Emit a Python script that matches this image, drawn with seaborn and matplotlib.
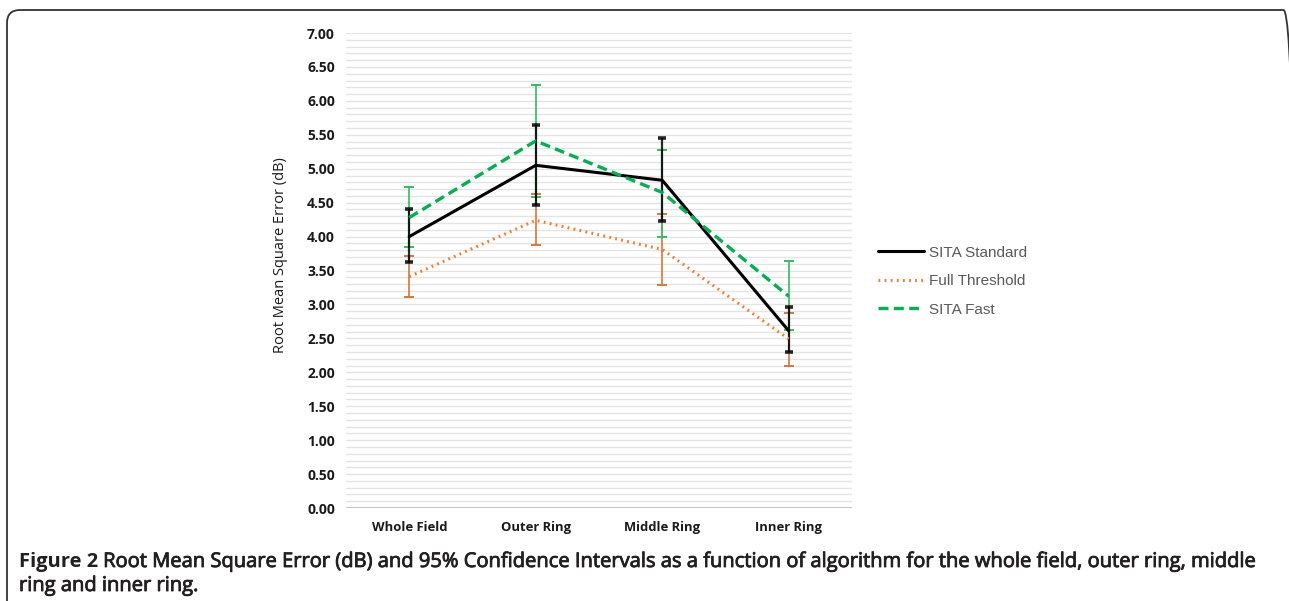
import numpy as np
import pandas as pd
import matplotlib
matplotlib.use('Agg')
import matplotlib.pyplot as plt
import matplotlib.patheffects as pe
from matplotlib.patches import FancyBboxPatch
from matplotlib.lines import Line2D
import seaborn as sns

# --- data ---
regions = ['Whole Field', 'Outer Ring', 'Middle Ring', 'Inner Ring']
algorithms = ['SITA Standard', 'Full Threshold', 'SITA Fast']

sita_std = [4.00, 5.05, 4.83, 2.61]
sita_std_lo = [3.62, 4.47, 4.23, 2.30]
sita_std_hi = [4.40, 5.65, 5.45, 2.96]

full_thr = [3.41, 4.24, 3.81, 2.49]
full_thr_lo = [3.11, 3.87, 3.29, 2.10]
full_thr_hi = [3.71, 4.63, 4.34, 2.87]

sita_fast = [4.28, 5.41, 4.65, 3.12]
sita_fast_lo = [3.84, 4.58, 4.00, 2.62]
sita_fast_hi = [4.73, 6.24, 5.28, 3.64]

yticks = [0.0, 0.5, 1.0, 1.5, 2.0, 2.5, 3.0, 3.5, 4.0, 4.5, 5.0, 5.5, 6.0, 6.5, 7.0]

caption_bold = 'Figure 2'
caption_1 = 'Root Mean Square Error (dB) and 95% Confidence Intervals as a function of algorithm for the whole field, outer ring, middle'
caption_2 = 'ring and inner ring.'

means = {'SITA Standard': sita_std, 'Full Threshold': full_thr, 'SITA Fast': sita_fast}
lows = {'SITA Standard': sita_std_lo, 'Full Threshold': full_thr_lo, 'SITA Fast': sita_fast_lo}
highs = {'SITA Standard': sita_std_hi, 'Full Threshold': full_thr_hi, 'SITA Fast': sita_fast_hi}

rows = []
for alg in algorithms:
    for i, reg in enumerate(regions):
        rows.append({'pos': i, 'region': reg, 'algorithm': alg, 'rmse': means[alg][i]})
df = pd.DataFrame(rows)

line_colors = {'SITA Standard': '#000000', 'Full Threshold': '#ED7D31', 'SITA Fast': '#00B050'}
bar_colors = {'SITA Standard': '#000000', 'Full Threshold': '#D2783C', 'SITA Fast': '#35BA64'}
dashes = {'SITA Standard': '', 'Full Threshold': (0.6, 1.4), 'SITA Fast': (3.0, 1.6)}
widths = {'SITA Standard': 2.2, 'Full Threshold': 2.2, 'SITA Fast': 2.4}

sns.set_theme(style='white')
plt.rcParams['font.family'] = ['Open Sans', 'DejaVu Sans']

fig = plt.figure(figsize=(12.89, 6.01), dpi=100)
ax = fig.add_axes([346 / 1289, 1 - 508 / 601, 506 / 1289, 475 / 601])

# minor grid every 0.1
for v in np.arange(0.1, 7.01, 0.1):
    ax.axhline(v, color='#E4E4E4', lw=1.0, zorder=0)
ax.axhline(0, color='#BFBFBF', lw=1.3, zorder=1)

# error bars: coloured ones first, black on top
for alg in ['Full Threshold', 'SITA Fast', 'SITA Standard']:
    m = np.array(means[alg])
    lo = m - np.array(lows[alg])
    hi = np.array(highs[alg]) - m
    if alg == 'SITA Standard':
        ax.errorbar(range(len(regions)), m, yerr=[lo, hi], fmt='none', ecolor='#000000',
                    elinewidth=1.6, capsize=3.2, capthick=2.6, zorder=3, alpha=0.85)
    else:
        ax.errorbar(range(len(regions)), m, yerr=[lo, hi], fmt='none', ecolor=bar_colors[alg],
                    elinewidth=1.2, capsize=3.8, capthick=1.4, zorder=2)

sns.lineplot(data=df, x='pos', y='rmse', hue='algorithm', style='algorithm',
             hue_order=algorithms, style_order=algorithms, palette=line_colors,
             dashes=dashes, size='algorithm', sizes=widths, legend=False, ax=ax, zorder=4)

ax.set_xlim(-0.5, 3.5)
ax.set_ylim(0, 7)
ax.set_xticks(range(len(regions)))
ax.set_xticklabels(regions, fontweight='bold', fontsize=9.4, color='#1a1a1a')
ax.set_yticks(yticks)
ax.set_yticklabels([f'{v:.2f}' for v in yticks], fontweight='bold', fontsize=10, color='#1a1a1a')
ax.tick_params(axis='y', length=0, pad=8)
ax.tick_params(axis='x', length=0, pad=9.5)
ax.set_xlabel('')
ax.set_ylabel('Root Mean Square Error (dB)', fontsize=10.5, color='#1a1a1a')
ax.yaxis.set_label_coords(-0.115, 0.533)
for s in ax.spines.values():
    s.set_visible(False)

# legend
handles = [Line2D([], [], color=line_colors[a], lw=widths[a],
                  linestyle='-' if a == 'SITA Standard' else (0, dashes[a])) for a in algorithms]
leg = fig.legend(handles, algorithms, loc='upper left', bbox_to_anchor=(864 / 1289, 1 - 232 / 601),
                 frameon=False, handlelength=3.0, handletextpad=0.35, labelspacing=0.95,
                 prop={'family': ['Liberation Sans'], 'size': 11})
for t in leg.get_texts():
    t.set_color('#595959')

# rounded frame around the figure panel, in inches so the corners stay round;
# right and bottom edges run off the image
frame = FancyBboxPatch((0.07, -0.5), 12.965 - 0.07, 5.91 + 0.5,
                       boxstyle='round,pad=0,rounding_size=0.13', transform=fig.dpi_scale_trans,
                       fill=False, ec='#333333', lw=1.3)
fig.patches.append(frame)

# caption (semibold faked with a thin stroke)
semi = [pe.withStroke(linewidth=0.6, foreground='#231F20')]
cap_size = 14.5
t1 = fig.text(19 / 1289, 1 - 567 / 601, caption_bold, fontsize=cap_size, fontweight='bold',
              color='#231F20', va='baseline', ha='left')
fig.canvas.draw()
x_end = t1.get_window_extent().x1 / fig.bbox.width
fig.text(x_end + 5 / 1289, 1 - 567 / 601, caption_1, fontsize=cap_size, color='#231F20',
         va='baseline', ha='left', path_effects=semi)
fig.text(19 / 1289, 1 - 591 / 601, caption_2, fontsize=cap_size, color='#231F20',
         va='baseline', ha='left', path_effects=semi)

fig.savefig('out.png', dpi=100)
